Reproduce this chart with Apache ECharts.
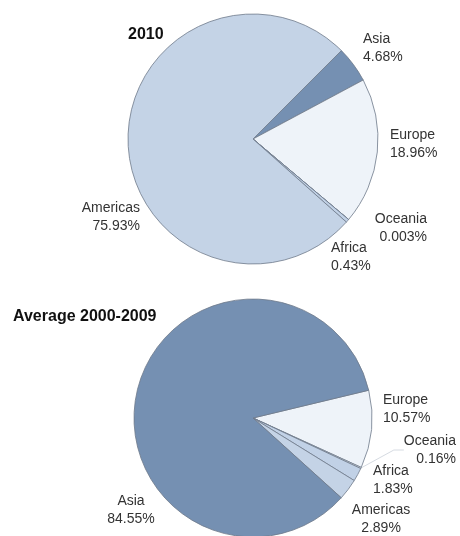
<!DOCTYPE html>
<html>
<head>
<meta charset="utf-8">
<script src="https://cdn.jsdelivr.net/npm/echarts@6/dist/echarts.min.js"></script>
<style>
	html, body { margin: 0; padding: 0; background: #fff; }
	#main { width: 460px; height: 536px; }
</style>
</head>
<body>
<div id="main"></div>
<script>
// 2010 share by region (%)
var regions2010 = ['Asia', 'Europe', 'Oceania', 'Africa', 'Americas'];
var values2010 = [4.68, 18.96, 0.003, 0.43, 75.93];

// average 2000-2009 share by region (%)
var regionsAvg = ['Europe', 'Oceania', 'Africa', 'Americas', 'Asia'];
var valuesAvg = [10.57, 0.16, 1.83, 2.89, 84.55];

var regionColors = {
	'Asia': '#7590b2',
	'Europe': '#eef3f9',
	'Oceania': '#f4f7fb',
	'Africa': '#c1d1e6',
	'Americas': '#c4d3e6'
};

// label anchors [x, y, align]
var labelPos2010 = {
	'Asia': [363, 48, 'left'],
	'Europe': [390, 144, 'left'],
	'Oceania': [427, 228, 'right'],
	'Africa': [331, 257, 'left'],
	'Americas': [140, 217, 'right']
};
var labelPosAvg = {
	'Europe': [383, 409, 'left'],
	'Oceania': [456, 450, 'right'],
	'Africa': [373, 480, 'left'],
	'Americas': [381, 519, 'center'],
	'Asia': [131, 510, 'center']
};

function buildData(names, values, oceaniaLine) {
	var arr = [];
	for (var i = 0; i < names.length; i++) {
		var item = {
			name: names[i],
			value: values[i],
			itemStyle: { color: regionColors[names[i]] }
		};
		if (oceaniaLine && names[i] == 'Oceania') {
			item.labelLine = { show: true, lineStyle: { color: '#d6dbe2', width: 1 } };
		}
		arr.push(item);
	}
	return arr;
}

function layoutFn(posMap, names) {
	return function (params) {
		var p = posMap[names[params.dataIndex]];
		return { x: p[0], y: p[1], align: p[2], verticalAlign: 'middle' };
	};
}

var chart = echarts.init(document.getElementById('main'));
var labelStyle = {
	show: true,
	position: 'outside',
	formatter: '{b}\n{c}%',
	color: '#333',
	fontSize: 14,
	lineHeight: 18,
	fontFamily: 'Liberation Sans, Arial, sans-serif'
};

var option = {
	backgroundColor: '#fff',
	animation: false,
	title: [
		{
			text: '2010',
			left: 123,
			top: 22,
			textStyle: { fontSize: 16, fontWeight: 'bold', color: '#111', fontFamily: 'Liberation Sans, Arial, sans-serif' }
		},
		{
			text: 'Average 2000-2009',
			left: 8,
			top: 304,
			textStyle: { fontSize: 16, fontWeight: 'bold', color: '#111', fontFamily: 'Liberation Sans, Arial, sans-serif' }
		}
	],
	series: [
		{
			type: 'pie',
			center: [253, 139],
			radius: 125,
			startAngle: 45,
			clockwise: true,
			avoidLabelOverlap: false,
			itemStyle: { borderColor: '#6f7a8a', borderWidth: 0.8 },
			label: labelStyle,
			labelLine: { show: false },
			labelLayout: layoutFn(labelPos2010, regions2010),
			emphasis: { disabled: true },
			data: buildData(regions2010, values2010, false)
		},
		{
			type: 'pie',
			center: [253, 418],
			radius: 119,
			startAngle: 13.5,
			clockwise: true,
			avoidLabelOverlap: false,
			itemStyle: { borderColor: '#6f7a8a', borderWidth: 0.8 },
			label: labelStyle,
			labelLine: { show: false, length: 10, length2: 10 },
			labelLayout: layoutFn(labelPosAvg, regionsAvg),
			emphasis: { disabled: true },
			data: buildData(regionsAvg, valuesAvg, true)
		}
	]
};

chart.setOption(option);
</script>
</body>
</html>
